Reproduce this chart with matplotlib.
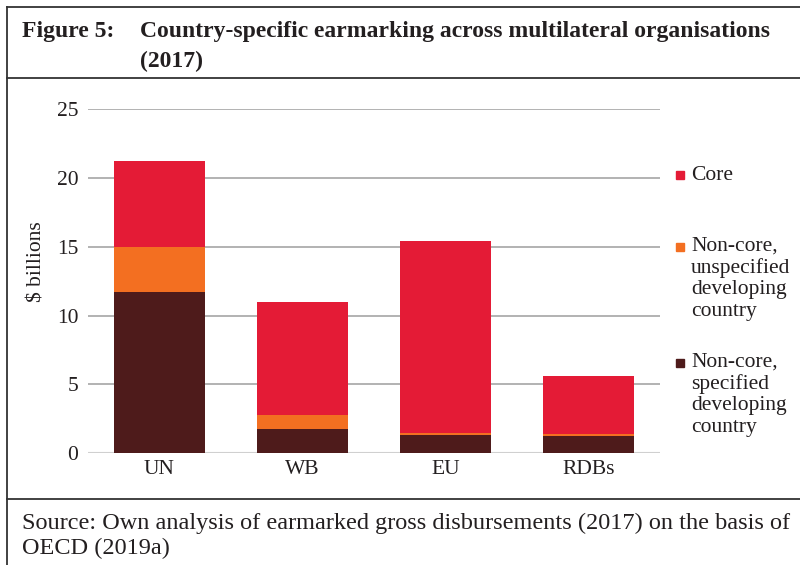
import numpy as np
import matplotlib
matplotlib.use("Agg")
import matplotlib.pyplot as plt
from matplotlib.lines import Line2D
from matplotlib.patches import Rectangle

# values, $ billions
orgs = ["UN", "WB", "EU", "RDBs"]
specified = [11.74, 1.76, 1.35, 1.23]
unspecified = [3.26, 1.04, 0.15, 0.20]
core = [6.23, 8.20, 13.90, 4.21]

series_names = [
    ["Core"],
    ["Non-core,", "unspecified", "developing", "country"],
    ["Non-core,", "specified", "developing", "country"],
]
colors = {"core": "#E41B36", "unspec": "#F36F21", "spec": "#4E1B1B"}
text_col = "#231F20"

W, H = 800, 565
plt.rcParams["font.family"] = ["Liberation Serif", "DejaVu Serif"]
fig = plt.figure(figsize=(W / 100, H / 100), dpi=100)


def fx(x):
    return x / W


def fy(y):
    return 1 - y / H


ax = fig.add_axes([fx(88), fy(453.3), fx(660) - fx(88), fy(109) - fy(453.3)])

x = np.arange(len(orgs))
spec = np.array(specified)
unsp = np.array(unspecified)
cor = np.array(core)
ax.bar(x, spec, width=0.64, color=colors["spec"], zorder=3)
ax.bar(x, unsp, width=0.64, bottom=spec, color=colors["unspec"], zorder=3)
ax.bar(x, cor, width=0.64, bottom=spec + unsp, color=colors["core"], zorder=3)

ax.set_xlim(-0.5, len(orgs) - 0.5)
ax.set_ylim(0, 25)
ax.set_yticks([0, 5, 10, 15, 20, 25])
ax.set_xticks(x)
ax.set_xticklabels(orgs)
ax.tick_params(axis="both", length=0, labelsize=15.5, colors=text_col)
ax.tick_params(axis="y", pad=7)
ax.tick_params(axis="x", pad=5)
ax.yaxis.grid(True, color="#A6A6A6", lw=1.2, zorder=0)
ax.set_axisbelow(True)
for s in ax.spines.values():
    s.set_visible(False)
ax.axhline(0, color="#D0D0D0", lw=1.5, zorder=2)

fig.text(fx(37), fy(262), "$ billions", rotation=90, ha="center", va="center",
         fontsize=15.5, color=text_col)

# legend, marker aligned to first line
leg_rows = [
    (colors["core"], series_names[0], 175, 180),
    (colors["unspec"], series_names[1], 246.5, 251),
    (colors["spec"], series_names[2], 362.5, 367),
]
for col, lines, my, base in leg_rows:
    fig.patches.append(Rectangle((fx(676), fy(my + 4)), fx(8), fy(0) - fy(8),
                                 transform=fig.transFigure, color=col))
    for i, line in enumerate(lines):
        fig.text(fx(691), fy(base + i * 21.7), line, ha="left", va="baseline",
                 fontsize=15.5, color=text_col)

# title block
fig.text(fx(22), fy(37), "Figure 5:", fontsize=17, fontweight="bold",
         ha="left", va="baseline", color=text_col)
fig.text(fx(140), fy(37), "Country-specific earmarking across multilateral organisations",
         fontsize=17, fontweight="bold", ha="left", va="baseline", color=text_col)
fig.text(fx(140), fy(67), "(2017)", fontsize=17, fontweight="bold",
         ha="left", va="baseline", color=text_col)

# source
fig.text(fx(22), fy(529), "Source: Own analysis of earmarked gross disbursements (2017) on the basis of",
         fontsize=17.5, ha="left", va="baseline", color=text_col)
fig.text(fx(22), fy(554), "OECD (2019a)", fontsize=17.5, ha="left", va="baseline",
         color=text_col)

# frame lines
frame = [
    ((7, 800), (7, 7)),
    ((7, 7), (7, 565)),
    ((7, 800), (78, 78)),
    ((7, 800), (499, 499)),
]
for xs, ys in frame:
    fig.add_artist(Line2D([fx(v) for v in xs], [fy(v) for v in ys],
                          transform=fig.transFigure, color="#333333", lw=1.3))

fig.savefig("out.png", dpi=100)
